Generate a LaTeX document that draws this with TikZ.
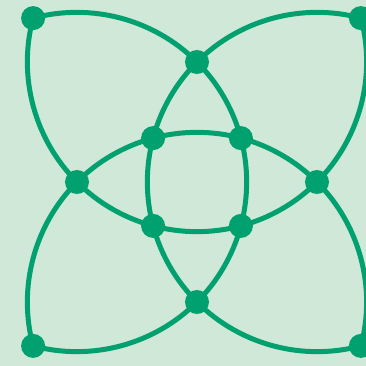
\documentclass[tikz,border=0pt]{standalone}
\definecolor{bgc}{RGB}{207,232,216}
\definecolor{grn}{RGB}{0,161,110}
\pgfdeclarelayer{edgelayer}
\pgfsetlayers{edgelayer,main}
\begin{document}
\begin{tikzpicture}[x=1bp,y=1bp,
  dot/.style={circle,fill=grn,draw=none,inner sep=0pt,minimum size=24bp},
  link/.style={draw=grn,line width=5bp,line join=round},
  arcA/.style={bend right=30,looseness=0.912},
  arcB/.style={bend right=15,looseness=0.866}]
\useasboundingbox (0,0) rectangle (366,366);
\begin{scope}
\clip (0,0) rectangle (366,366);
\node[dot] (t) at (197,304) {};
\node[dot] (b) at (197,64) {};
\node[dot] (l) at (77,184) {};
\node[dot] (r) at (317,184) {};
\node[dot] (ctl) at (33.1,347.9) {};
\node[dot] (ctr) at (360.9,347.9) {};
\node[dot] (cbl) at (33.1,20.1) {};
\node[dot] (cbr) at (360.9,20.1) {};
\node[dot] (itl) at (153.1,227.9) {};
\node[dot] (itr) at (240.9,227.9) {};
\node[dot] (ibl) at (153.1,140.1) {};
\node[dot] (ibr) at (240.9,140.1) {};
\end{scope}
\begin{pgfonlayer}{edgelayer}
\clip (0,0) rectangle (366,366);
\fill[bgc] (0,0) rectangle (366,366);
% circle centred on top node
\draw[link] (ctl.center) to[arcA] (l.center) to[arcB] (ibl.center) to[arcB] (ibr.center) to[arcB] (r.center) to[arcA] (ctr.center);
% circle centred on bottom node
\draw[link] (cbr.center) to[arcA] (r.center) to[arcB] (itr.center) to[arcB] (itl.center) to[arcB] (l.center) to[arcA] (cbl.center);
% circle centred on left node
\draw[link] (cbl.center) to[arcA] (b.center) to[arcB] (ibr.center) to[arcB] (itr.center) to[arcB] (t.center) to[arcA] (ctl.center);
% circle centred on right node
\draw[link] (ctr.center) to[arcA] (t.center) to[arcB] (itl.center) to[arcB] (ibl.center) to[arcB] (b.center) to[arcA] (cbr.center);
\end{pgfonlayer}
\end{tikzpicture}
\end{document}
